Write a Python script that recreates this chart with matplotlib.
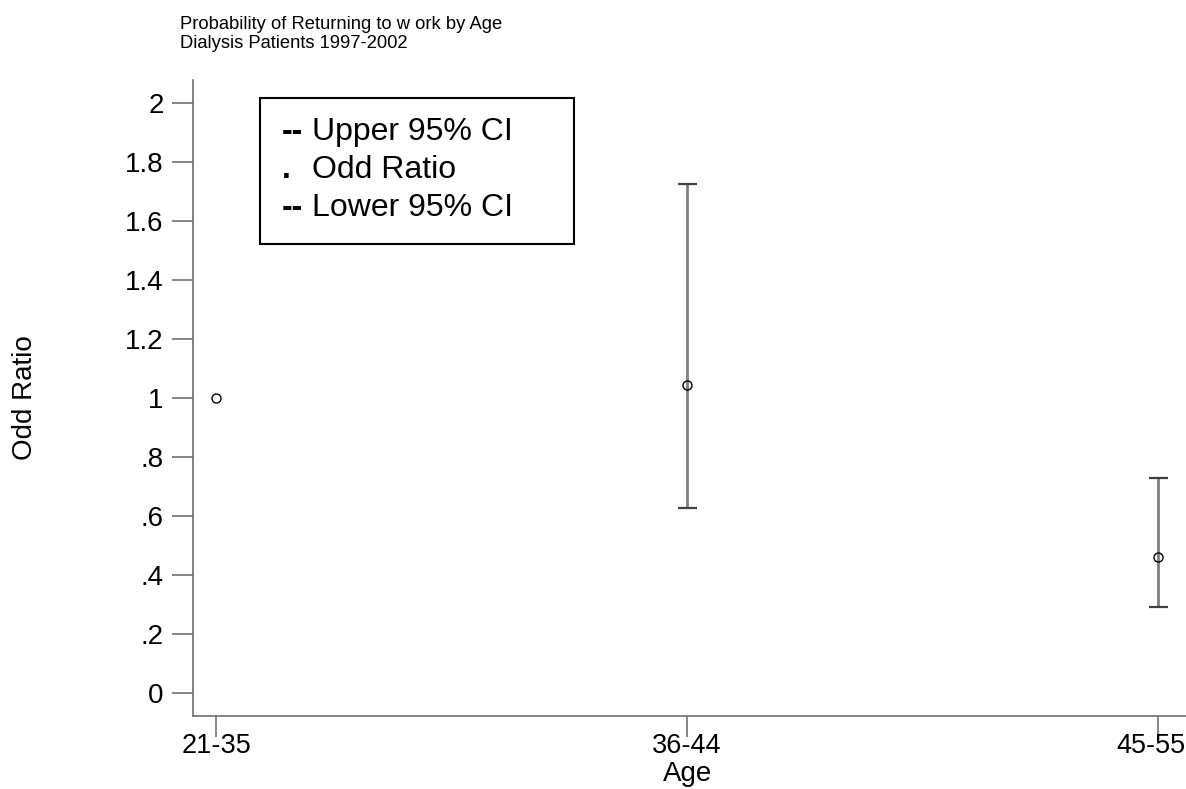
import matplotlib.pyplot as plt
import matplotlib.patches as mpatches
from matplotlib.transforms import ScaledTranslation
import numpy as np

plt.rcParams['font.family'] = ['Liberation Sans', 'DejaVu Sans']

age_groups = ['21-35', '36-44', '45-55']
odds_ratio = [1.0, 1.044, 0.461]
upper_ci = [np.nan, 1.725, 0.729]
lower_ci = [np.nan, 0.627, 0.292]

y_ticks = [0, 0.2, 0.4, 0.6, 0.8, 1.0, 1.2, 1.4, 1.6, 1.8, 2.0]
y_tick_labels = ['0', '.2', '.4', '.6', '.8', '1', '1.2', '1.4', '1.6', '1.8', '2']

W, H = 1186, 789
fig = plt.figure(figsize=(W / 100, H / 100), dpi=100)
ax = fig.add_axes([193 / W, (H - 716) / H, (W - 193) / W, (716 - 80) / H])

x = np.arange(len(age_groups))

# confidence interval whiskers: grey stem, dark caps
for xi, lo, hi in zip(x, lower_ci, upper_ci):
    if np.isnan(lo):
        continue
    ax.vlines(xi, lo, hi, color='#808080', lw=2)
    ax.hlines([lo, hi], xi - 0.02, xi + 0.02, color='#404040', lw=1.6)

ax.plot(x, odds_ratio, 'o', ms=6.5, mfc='none', mec='black', mew=1)

ax.set_xlim(-0.049, 2.059)
ax.set_ylim(-0.078, 2.078)
ax.set_xticks(x)
ax.set_xticklabels(age_groups)
ax.set_yticks(y_ticks)
ax.set_yticklabels(y_tick_labels)

for side in ['top', 'right']:
    ax.spines[side].set_visible(False)
for side in ['left', 'bottom']:
    ax.spines[side].set_color('#707070')
    ax.spines[side].set_linewidth(1.2)

ax.tick_params(axis='both', colors='#707070', labelcolor='black',
               length=15, width=1.2)
ax.tick_params(axis='y', pad=6, labelsize=20)
ax.tick_params(axis='x', pad=-2.5, labelsize=19.5)

# last x label sits against the right edge in the reference
last = ax.get_xticklabels()[-1]
last.set_ha('right')
last.set_transform(last.get_transform() + ScaledTranslation(0.27, 0, fig.dpi_scale_trans))

fig.text(688 / W, 1 - 781 / H, 'Age', fontsize=20, ha='center', va='baseline')
fig.text(25 / W, 1 - 398 / H, 'Odd Ratio', rotation=90, fontsize=20,
         ha='center', va='center')

fig.text(180 / W, 1 - 29 / H, 'Probability of Returning to w ork by Age',
         fontsize=13.2, ha='left', va='baseline')
fig.text(180 / W, 1 - 48 / H, 'Dialysis Patients 1997-2002',
         fontsize=13.2, ha='left', va='baseline')

# hand-made legend box
fig.patches.append(mpatches.Rectangle((260 / W, 1 - 244 / H), (574 - 260) / W, (244 - 98) / H,
                                      transform=fig.transFigure, fill=False,
                                      edgecolor='black', lw=1.5))
rows = [('--', 'Upper 95% CI', 140), ('.', 'Odd Ratio', 178), ('--', 'Lower 95% CI', 216)]
for sym, label, base in rows:
    fig.text(282 / W, 1 - base / H, sym, fontsize=23, fontweight='bold',
             ha='left', va='baseline')
    fig.text(312 / W, 1 - base / H, label, fontsize=23, ha='left', va='baseline')

fig.savefig('out.png', dpi=100)
